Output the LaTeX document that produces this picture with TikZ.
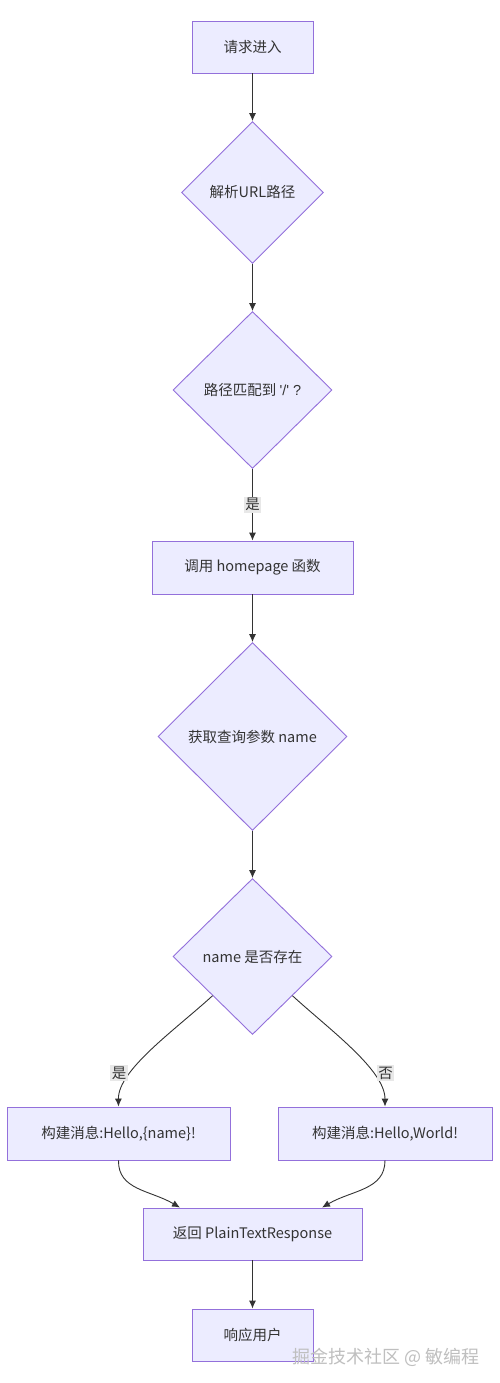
\documentclass[tikz,border=0pt]{standalone}
\usepackage{fontspec}
\setmainfont{Noto Sans CJK SC}[Ligatures=TeXOff]
\newfontfamily\latinf{Liberation Sans}[Ligatures=TeXOff]
\usetikzlibrary{shapes.geometric,arrows.meta}
\definecolor{nodefill}{HTML}{ECECFF}
\definecolor{nodeline}{HTML}{9370DB}
\definecolor{edgecol}{HTML}{333333}
\definecolor{lblbg}{HTML}{E8E8E8}
\definecolor{txtcol}{HTML}{333333}
\begin{document}
\begin{tikzpicture}[x=1pt,y=-1pt,
  font=\fontsize{14.5}{17}\selectfont,
  boxnode/.style={draw=nodeline, fill=nodefill, line width=0.9pt, text=txtcol, rectangle, inner sep=0pt},
  dianode/.style={draw=nodeline, fill=nodefill, line width=0.9pt, text=txtcol, diamond, aspect=1, inner sep=0pt},
  flow/.style={draw=edgecol, line width=0.9pt, -{Latex[length=8pt,width=7pt]}},
  lbl/.style={fill=lblbg, text=txtcol, inner sep=1.5pt}
]
\useasboundingbox (0,0) rectangle (500,1383);
\fill[white] (0,0) rectangle (500,1383);

\node[boxnode, minimum width=121pt, minimum height=52pt] (a) at (252.5,47) {请求进入};
\node[dianode, minimum width=142pt, minimum height=142pt] (b) at (252.5,192.5) {解析URL路径};
\node[dianode, minimum width=159pt, minimum height=157pt] (c) at (252.5,390) {路径匹配到 {\latinf '/' ?}};
\node[boxnode, minimum width=201pt, minimum height=53pt] (d) at (252.5,567.5) {调用 homepage 函数};
\node[dianode, minimum width=189pt, minimum height=188pt] (e) at (252.5,736.5) {获取查询参数 name};
\node[dianode, minimum width=159pt, minimum height=156pt] (f) at (252.5,956.5) {name 是否存在};
\node[boxnode, minimum width=223pt, minimum height=53pt] (g) at (118.5,1133.5) {构建消息:Hello,\{name\}!};
\node[boxnode, minimum width=214pt, minimum height=53pt] (h) at (385,1133.5) {构建消息:Hello,World!};
\node[boxnode, minimum width=219pt, minimum height=52pt] (i) at (252.5,1234) {返回 PlainTextResponse};
\node[boxnode, minimum width=121pt, minimum height=52pt] (j) at (252.5,1335) {响应用户};

\draw[flow] (a) -- (b);
\draw[flow] (b) -- (c);
\draw[flow] (c) -- (d) node[lbl, pos=0.5] (l1) {是};
\draw[flow] (d) -- (e);
\draw[flow] (e) -- (f);
\draw[flow] (f.south west) .. controls (175,1030) and (118,1070) .. (g.north);
\node[lbl] (l2) at (119,1073) {是};
\draw[flow] (f.south east) .. controls (330,1030) and (385,1070) .. (h.north);
\node[lbl] (l3) at (385.5,1073) {否};
\draw[flow] (g.south) .. controls (118,1190) and (150,1190) .. (i.north -| 180,0);
\draw[flow] (h.south) .. controls (385,1190) and (352,1190) .. (i.north -| 322,0);
\draw[flow] (i) -- (j);

\node[text=gray!50, font=\fontsize{18}{20}\selectfont] (wm) at (386,1357) {掘金技术社区 @ 敏编程};
\end{tikzpicture}
\end{document}
